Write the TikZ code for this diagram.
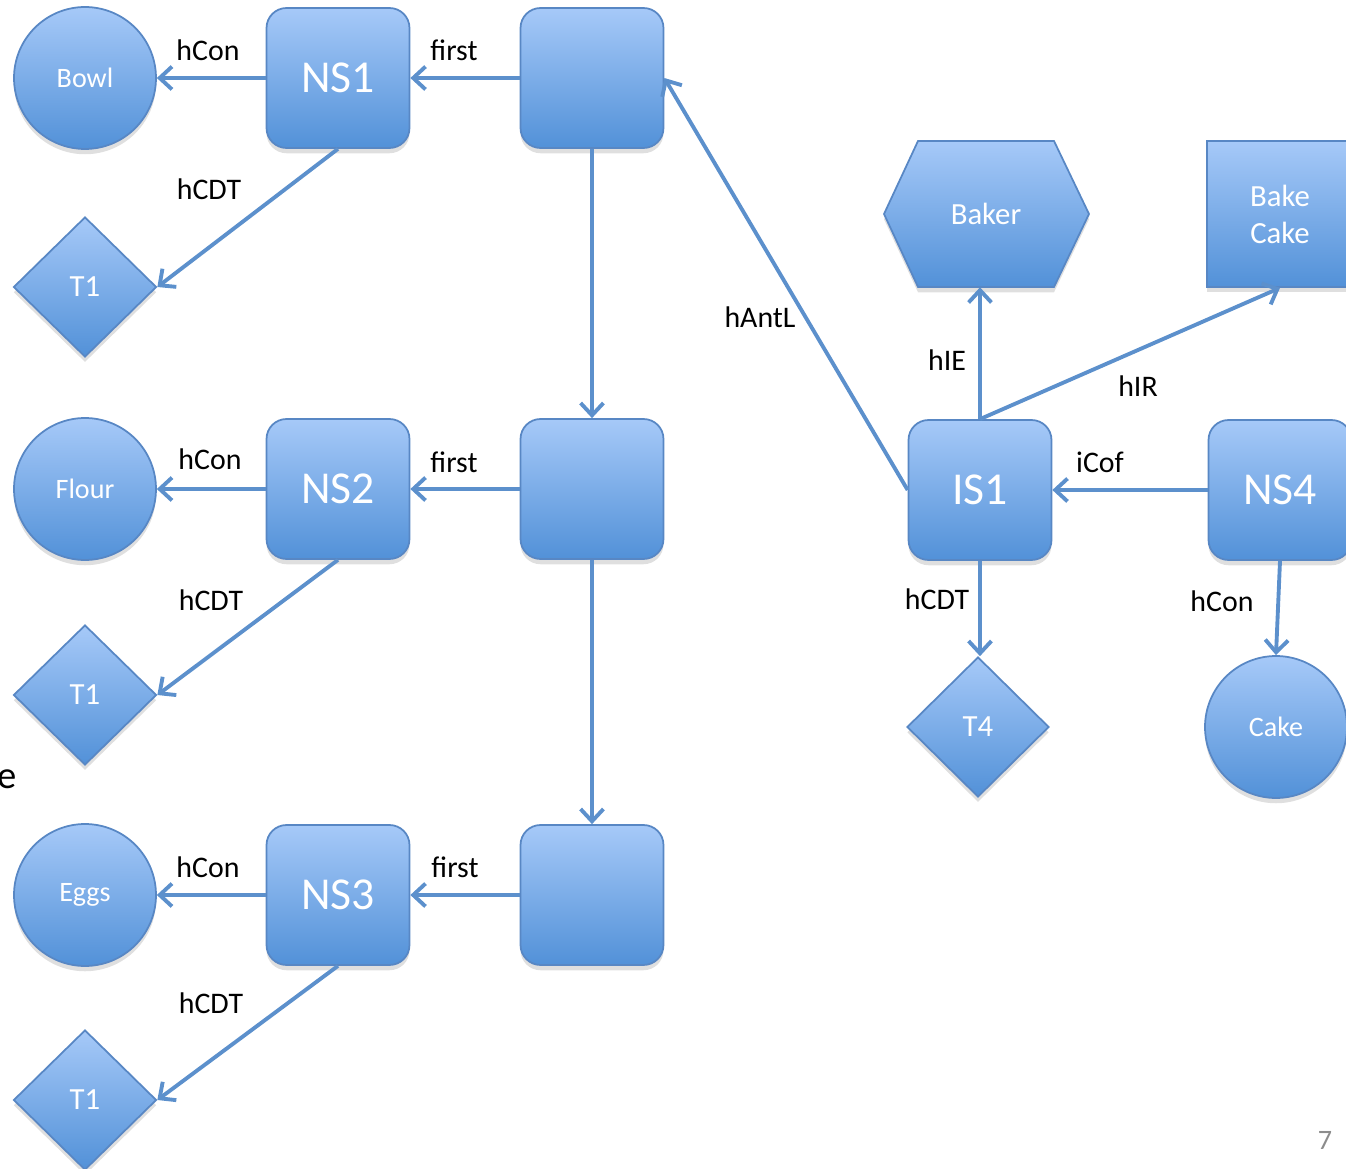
\documentclass[tikz,border=0pt]{standalone}
\usepackage{fontspec}
\setmainfont{Carlito}
\usetikzlibrary{shapes.geometric,arrows.meta,shadows}
\definecolor{shapetop}{RGB}{166,201,248}
\definecolor{shapebot}{RGB}{82,145,216}
\definecolor{shapeline}{RGB}{88,135,196}
\definecolor{linkblue}{RGB}{92,144,204}
\definecolor{pagegray}{RGB}{140,140,140}
\tikzset{
  blob/.style={top color=shapetop, bottom color=shapebot, draw=shapeline, line width=1pt, text=white,
    drop shadow={opacity=0.25, shadow xshift=0pt, shadow yshift=-3pt}},
  sbox/.style={blob, rectangle, rounded corners=0.4cm, minimum width=2.86cm, minimum height=2.8cm,
    font=\fontsize{26}{30}\selectfont},
  thing/.style={blob, circle, minimum size=2.84cm, inner sep=0pt, font=\fontsize{16}{19}\selectfont},
  tnode/.style={blob, diamond, minimum width=2.86cm, minimum height=2.8cm, inner sep=0pt,
    font=\fontsize{17.5}{21}\selectfont},
  role/.style={blob, rectangle, minimum width=2.92cm, minimum height=2.92cm, align=center,
    font=\fontsize{17.5}{21}\selectfont},
  rel/.style={font=\fontsize{17}{20}\selectfont},
  link/.style={draw=linkblue, line width=2.2pt, -{Straight Barb[length=7pt,width=13pt]}}
}
\begin{document}
\begin{tikzpicture}[x=0.02cm,y=-0.02cm]
\clip (0,0) rectangle (1346,1169);
% left column
\node[thing] (bowl) at (85,78) {Bowl};
\node[sbox] (ns1) at (338,78) {NS1};
\node[sbox] (box1) at (592,78) {};
\node[tnode] (t1a) at (85,287) {T1};
\node[thing] (flour) at (85,489) {Flour};
\node[sbox] (ns2) at (338,489) {NS2};
\node[sbox] (box2) at (592,489) {};
\node[tnode] (t1b) at (85,695) {T1};
\node[thing] (eggs) at (85,895) {Eggs};
\node[sbox] (ns3) at (338,895) {NS3};
\node[sbox] (box3) at (592,895) {};
\node[tnode] (t1c) at (85,1100) {T1};
\node[font=\fontsize{22}{26}\selectfont, anchor=base east, inner sep=0pt] (cut) at (17,788) {e};
% right part
\path[blob] (884,214) -- (918,141) -- (1054,141) -- (1089,214) -- (1054,287) -- (918,287) -- cycle;
\node[text=white, font=\fontsize{17.5}{21}\selectfont, minimum width=4.1cm, minimum height=2.92cm] (baker) at (986,214) {Baker};
\node[role] (bake) at (1280,214) {Bake\\Cake};
\node[sbox] (is1) at (980,490) {IS1};
\node[sbox] (ns4) at (1280,490) {NS4};
\node[tnode, minimum width=2.84cm] (t4) at (978,727) {T4};
\node[thing] (cake) at (1276,727) {Cake};
\node[text=pagegray, font=\fontsize{16}{19}\selectfont] (page) at (1325,1140) {7};
% links
\draw[link] (ns1) -- (bowl);
\draw[link] (box1) -- (ns1);
\draw[link] (ns1.south) -- (t1a.east);
\draw[link] (ns2) -- (flour);
\draw[link] (box2) -- (ns2);
\draw[link] (ns2.south) -- (t1b.east);
\draw[link] (ns3) -- (eggs);
\draw[link] (box3) -- (ns3);
\draw[link] (ns3.south) -- (t1c.east);
\draw[link] (box1) -- (box2);
\draw[link] (box2) -- (box3);
\draw[link] (is1.west) -- (box1.east);
\draw[link] (is1.north) -- (is1.north |- baker.south);
\draw[link] (is1.north) -- (bake.south);
\draw[link] (ns4) -- (is1);
\draw[link] (is1) -- (is1 |- t4.north);
\draw[link] (ns4.south) -- (cake.north);
% labels
\node[rel] (l1) at (208,50) {hCon};
\node[rel] (l2) at (454,50) {first};
\node[rel] (l3) at (209,189) {hCDT};
\node[rel] (l4) at (210,459) {hCon};
\node[rel] (l5) at (454,462) {first};
\node[rel] (l6) at (211,600) {hCDT};
\node[rel] (l7) at (208,867) {hCon};
\node[rel] (l8) at (455,867) {first};
\node[rel] (l9) at (211,1003) {hCDT};
\node[rel] (l10) at (760,317) {hAntL};
\node[rel] (l11) at (947,360) {hIE};
\node[rel] (l12) at (1138,386) {hIR};
\node[rel] (l13) at (1100,462) {iCof};
\node[rel] (l14) at (937,599) {hCDT};
\node[rel] (l15) at (1222,601) {hCon};
\end{tikzpicture}
\end{document}
